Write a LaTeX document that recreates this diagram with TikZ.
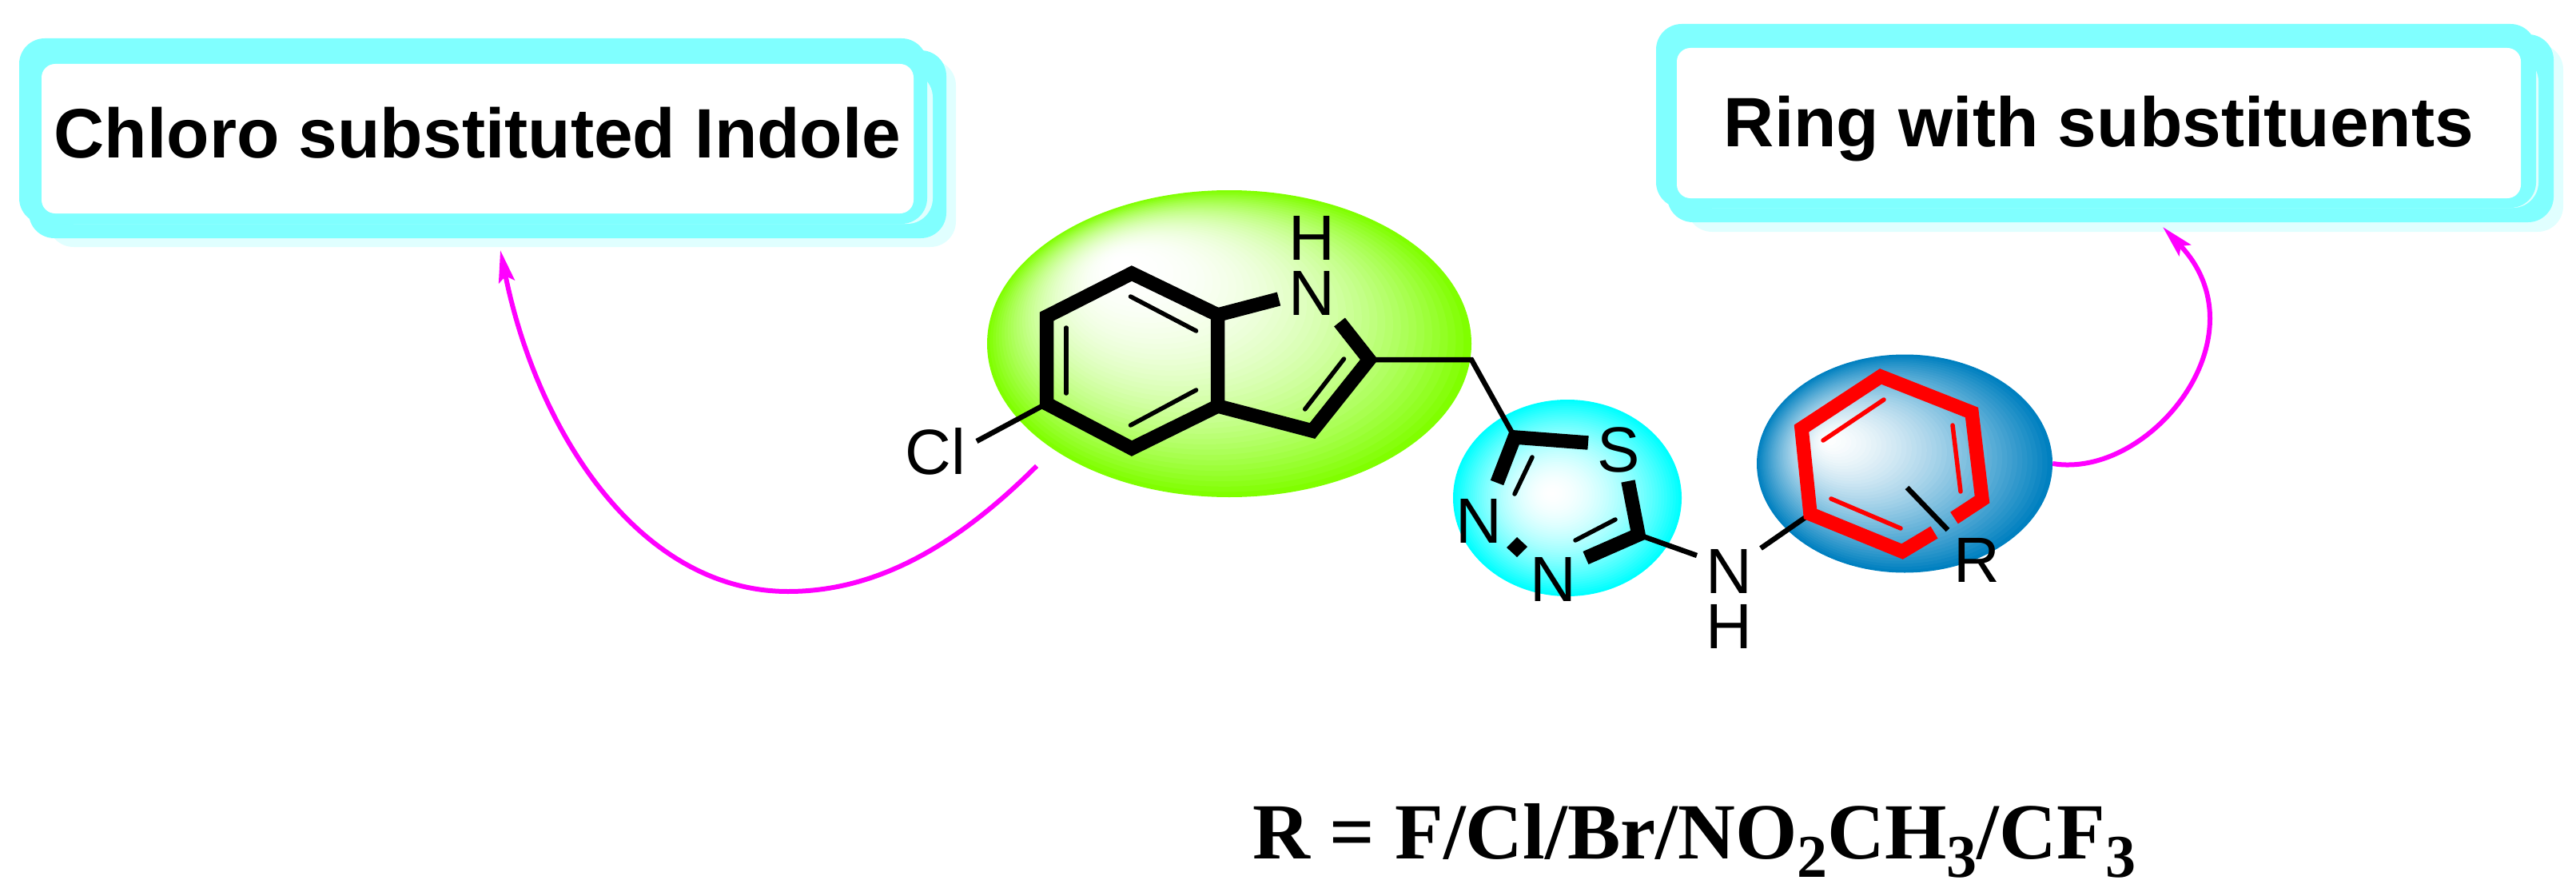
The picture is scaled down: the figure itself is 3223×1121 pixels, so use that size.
\documentclass[tikz,border=0pt]{standalone}
\usepackage{fontspec}
\setmainfont{Liberation Sans}
\newfontfamily\serifbold[BoldFont={Liberation Serif Bold}]{Liberation Serif}
\usepackage{tikz}
\usetikzlibrary{arrows.meta,shapes.geometric,positioning}
\definecolor{boxcyan}{HTML}{80FFFF}
\definecolor{boxpale}{HTML}{E0FFFF}
\definecolor{ballgreen}{HTML}{80FF00}
\definecolor{ballcyan}{HTML}{00FFFF}
\definecolor{ballblue}{HTML}{0080C0}
\definecolor{arrowpink}{HTML}{FF00FF}
\tikzset{
  boxtext/.style={rectangle,rounded corners=17pt,fill=white,inner sep=0pt,align=center,
    font=\fontsize{87.5}{90}\selectfont\bfseries},
  atom/.style={inner sep=0pt,anchor=base,font=\fontsize{80}{80}\selectfont},
  ball/.style={ellipse,inner sep=0pt},
  boldbond/.style={line width=17.5pt},
  thinbond/.style={line width=6.5pt},
  dblbond/.style={line width=5.5pt,line cap=round},
  pinkline/.style={draw=arrowpink,line width=6pt},
  pinkarrow/.style={pinkline,-{Stealth[length=40pt,width=20pt,inset=7pt,fill=arrowpink]}}
}
% nested ellipses: outer edge to focus
\newcommand{\ballfill}[8]{
  \foreach \i in {0,...,44}{
    \pgfmathsetmacro{\t}{\i/45}
    \pgfmathsetmacro{\c}{100*(1-\t)^#8}
    \fill[#7!\c!white] ({#1+(#5-#1)*\t},{#2+(#6-#2)*\t}) ellipse ({#3*(1-\t)} and {#4*(1-\t)});
  }
}
\newcommand{\subnum}[1]{\raisebox{-23pt}{\fontsize{76}{76}\selectfont #1}}
\begin{document}
\begin{tikzpicture}[x=1pt,y=-1pt]
  \useasboundingbox (0,0) rectangle (3223,1121);
  % label boxes
  \foreach \xa/\ya/\xb/\yb/\col in {60/75/1196/309/boxpale, 36/63/1184/298/boxcyan, 60/90/1167/280/boxpale, 24/48/1160/280/boxcyan,
      2110/55/3207/290/boxpale, 2086/43/3195/278/boxcyan, 2110/70/3176/260/boxpale, 2072/30/3173/260/boxcyan}
    \fill[\col,rounded corners=32pt] (\xa,\ya) rectangle (\xb,\yb);
  \node[boxtext,minimum width=1091pt,text height=117pt,text depth=70pt] (chlorobox) at (597.5,173.5) {Chloro substituted Indole};
  \node[boxtext,minimum width=1056pt,text height=123pt,text depth=65pt] (ringbox) at (2626,154) {Ring with substituents};
  % balls
  \node[ball,minimum width=606pt,minimum height=384pt] (indoleball) at (1538,430) {};
  \node[ball,minimum width=286pt,minimum height=246pt] (thiaball) at (1961,623) {};
  \node[ball,minimum width=370pt,minimum height=273pt] (arylball) at (2383,580) {};
  \ballfill{1538}{430}{303}{192}{1400}{325}{ballgreen}{2.2}
  \ballfill{1961}{623}{143}{123}{1941}{617}{ballcyan}{1.8}
  \ballfill{2383}{580}{185}{136.5}{2285}{550}{ballblue}{1.5}
  % atoms positions
  \foreach \n/\x/\y in {a1/1416/342, a2/1309.5/396, a3/1309.5/505, a4/1416/561, a5/1523.6/508, a6/1523.6/394,
      b1/1600/374, b2/1676/403, b3/1713/450, b4/1642/539, cl/1222/552, ch/1841/450,
      t1/1895/547, t2/1987/554, t3/2037/602, t4/2050/669, t5/1984/698, t6/1873/604,
      n1/2123/695, n2/2203/686,
      r1/2353/471, r2/2467/516, r3/2480/625, r4/2445/648, r5/2420/666, r6/2380/690, r7/2265/643, r8/2254/536,
      s1/2386/610, s2/2437/663}
    \coordinate (\n) at (\x,\y);
  % bonds
  \draw[boldbond] (a1)--(a2)--(a3)--(a4)--(a5)--(a6)--cycle;
  \draw[boldbond] (a6)--(b1) (b2)--(b3)--(b4)--(a5);
  \draw[boldbond] (t6)--(t1)--(t2) (t3)--(t4)--(t5);
  \fill (1898,672)--(1911,684)--(1898,697)--(1885,685)--cycle;
  \draw[thinbond] (a3)--(cl) (b3)--(ch)--(t1) (t4)--(n1) (n2)--(r7);
  \draw[thinbond] (s1)--(s2);
  \foreach \xa/\ya/\xb/\yb in {1414.5/371/1496.6/414, 1334/410/1334/492, 1414.5/532/1496.6/488, 1681.5/449/1632.7/512,
      1917/572/1895/618, 2021/650/1971/676}
    \draw[dblbond] (\xa,\ya)--(\xb,\yb);
  \draw[boldbond,red] (r4)--(r3)--(r2)--(r1)--(r8)--(r7)--(r6)--(r5);
  \foreach \xa/\ya/\xb/\yb in {2357/500/2281/551, 2443/532/2453/615, 2291/624/2378/661}
    \draw[dblbond,red] (\xa,\ya)--(\xb,\yb);
  % labels
  \node[atom] (clatom) at (1170,593) {Cl};
  \node[atom] (hatom) at (1641,325) {H};
  \node[atom] (natom) at (1641,394) {N};
  \node[atom] (satom) at (2025,590) {S};
  \node[atom] (n3atom) at (1850,679) {N};
  \node[atom] (n4atom) at (1943,752) {N};
  \node[atom] (nhatom) at (2163,742) {N};
  \node[atom] (hhatom) at (2163,811) {H};
  \node[atom] (ratom) at (2473,728) {R};
  \node[inner sep=0pt,anchor=base west,font=\fontsize{99.5}{99.5}\selectfont\serifbold\bfseries] (rlist) at (1567,1074)
    {R = F/Cl/Br/NO\subnum{2}CH\subnum{3}/CF\subnum{3}};
  % arrows
  \coordinate (chlorotip) at (626,313);
  \coordinate (chlorostart) at (1297,583);
  \coordinate (chlorolow) at (986,740);
  \coordinate (ringtip) at (2706,284);
  \draw[pinkline] (chlorostart) .. controls (1190,690) and (1090,740) .. (chlorolow);
  \draw[pinkarrow] (chlorolow) .. controls (800,740) and (672,540) .. (chlorotip);
  \draw[pinkarrow] (arylball.east) .. controls (2690,600) and (2835,420) .. (ringtip);
\end{tikzpicture}
\end{document}
